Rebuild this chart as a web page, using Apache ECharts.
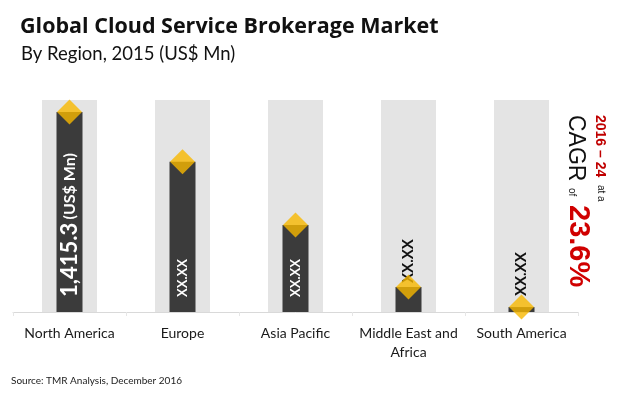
<!DOCTYPE html>
<html>
<head>
<meta charset="utf-8">
<script src="https://cdn.jsdelivr.net/npm/echarts@6/dist/echarts.min.js"></script>
<style>html,body{margin:0;padding:0;background:#fff}#c{width:620px;height:393px}</style>
</head>
<body>
<div id="c"></div>
<script>
var categories = ['North America', 'Europe', 'Asia Pacific', 'Middle East and\nAfrica', 'South America'];
var values = [1415.3, 1063, 615, 177, 35];
var valueLabels = ['1,415.3', 'XX.XX', 'XX.XX', 'XX.XX', 'XX.XX'];
var axisMax = 1500;
var backgroundValues = [1500, 1500, 1500, 1500, 1500];

var FONT = 'Lato, "Open Sans", sans-serif';
var chart = echarts.init(document.getElementById('c'), null, {renderer: 'canvas'});

var barData = values.map(function (v, i) {
  var inside = i < 3;
  var item = {value: v};
  if (i === 0) {
    item.label = {
      show: true, position: 'insideBottom', distance: 15, rotate: 90,
      align: 'left', verticalAlign: 'middle',
      formatter: '{v|' + valueLabels[i] + '} {u|(US$ Mn)}',
      rich: {
        v: {fontSize: 22, fontWeight: 'bold', color: '#fff', fontFamily: FONT},
        u: {fontSize: 16, fontWeight: 'bold', color: '#fff', fontFamily: FONT}
      }
    };
  } else {
    item.label = {
      show: true, position: inside ? 'insideBottom' : 'top',
      distance: inside ? 15 : (i === 3 ? 4 : 11), rotate: 90,
      align: 'left', verticalAlign: 'middle',
      formatter: valueLabels[i],
      fontSize: inside ? 13 : 15, fontWeight: 'bold', fontFamily: FONT,
      color: inside ? '#fff' : '#111'
    };
  }
  return item;
});

chart.setOption({
  animation: false,
  backgroundColor: '#fff',
  title: [
    {text: 'Global Cloud Service Brokerage Market', left: 15, top: 11,
     textStyle: {fontFamily: '"Open Sans", Lato, sans-serif', fontSize: 21.5, fontWeight: 'bold', color: '#111'}},
    {text: 'By Region, 2015 (US$ Mn)', left: 16, top: 40,
     textStyle: {fontFamily: FONT, fontSize: 18.5, fontWeight: 'normal', color: '#111'}},
    {text: 'Source: TMR Analysis, December 2016', left: 6, top: 371,
     textStyle: {fontFamily: FONT, fontSize: 10, fontWeight: 'normal', color: '#222'}}
  ],
  grid: {left: 13, right: 42, top: 100, bottom: 81, containLabel: false},
  xAxis: [
    {type: 'category', data: categories,
     axisLine: {lineStyle: {color: '#d9d9d9', width: 1}},
     axisTick: {show: true, length: 4, lineStyle: {color: '#e6e6e6'}},
     axisLabel: {fontFamily: FONT, fontSize: 14, color: '#1a1a1a', margin: 12, lineHeight: 19, interval: 0}},
    {type: 'category', data: categories, show: false}
  ],
  yAxis: {type: 'value', min: 0, max: axisMax, show: false, splitLine: {show: false}},
  series: [
    {type: 'bar', xAxisIndex: 1, data: backgroundValues, barWidth: 55, silent: true,
     itemStyle: {color: '#e4e4e4'}, z: 1},
    {type: 'bar', xAxisIndex: 0, data: barData, barWidth: 26,
     itemStyle: {color: '#3b3b3b'}, z: 2},
    {type: 'scatter', xAxisIndex: 0, data: values, symbol: 'diamond', symbolSize: [25, 25],
     itemStyle: {color: '#f8b800'}, z: 3}
  ],
  graphic: [
    {type: 'text', x: 599.6, y: 115, rotation: -Math.PI / 2,
     style: {text: '2016 \u2013 24', fill: '#c00000', font: 'bold 14px "Liberation Sans", Arial, sans-serif', align: 'left', verticalAlign: 'middle'}},
    {type: 'text', x: 600.5, y: 185, rotation: -Math.PI / 2,
     style: {text: 'at a', fill: '#111', font: '10px "Liberation Sans", Arial, sans-serif', align: 'left', verticalAlign: 'middle'}},
    {type: 'text', x: 575.6, y: 115, rotation: -Math.PI / 2,
     style: {text: 'CAGR', fill: '#111', font: '23px "Liberation Sans", Arial, sans-serif', align: 'left', verticalAlign: 'middle'}},
    {type: 'text', x: 571.3, y: 188, rotation: -Math.PI / 2,
     style: {text: 'of', fill: '#111', font: '10px "Liberation Sans", Arial, sans-serif', align: 'left', verticalAlign: 'middle'}},
    {type: 'text', x: 577.6, y: 205, rotation: -Math.PI / 2,
     style: {text: '23.6%', fill: '#d00000', font: 'bold 29px "Liberation Sans", Arial, sans-serif', align: 'left', verticalAlign: 'middle'}}
  ]
});
</script>
</body>
</html>
